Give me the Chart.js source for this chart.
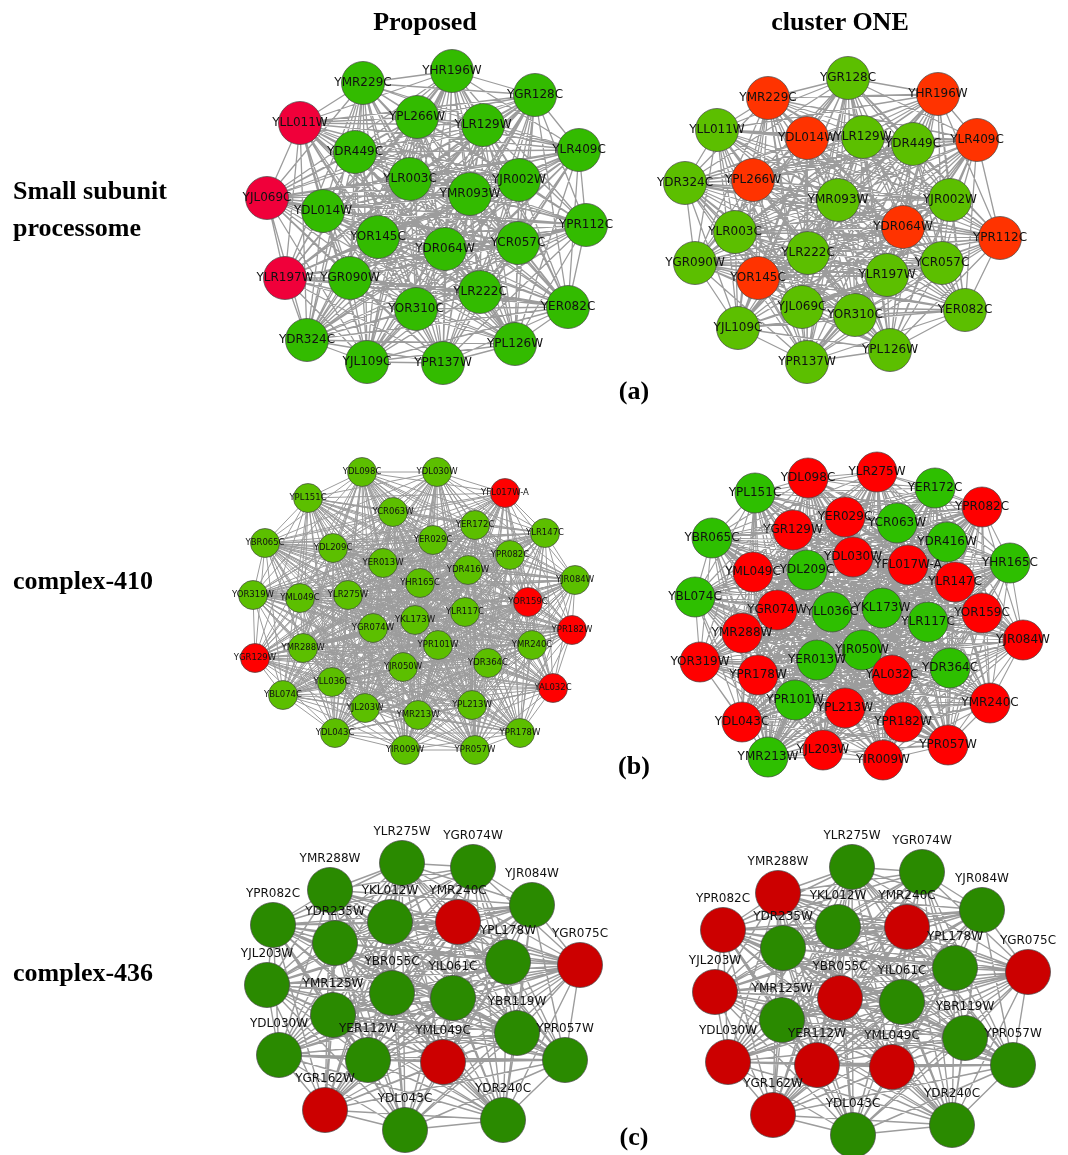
<!DOCTYPE html>
<html><head><meta charset="utf-8">
<script src="https://cdn.jsdelivr.net/npm/chart.js@4"></script>
<style>
html,body{margin:0;padding:0;background:#fff}
body{width:1068px;height:1155px;position:relative;overflow:hidden}
#wrap{position:absolute;left:0;top:0;width:1068px;height:1155px}
.t{position:absolute;font-family:"Liberation Serif","DejaVu Serif",serif;font-weight:bold;font-size:26px;line-height:26px;color:#000;white-space:nowrap}
.c{transform:translateX(-50%)}
</style></head><body>
<div id="wrap"><canvas id="c" width="1068" height="1155"></canvas></div>
<div class="t c" style="left:425px;top:9px">Proposed</div>
<div class="t c" style="left:840px;top:9px">cluster ONE</div>
<div class="t" style="left:13px;top:178px">Small subunit</div>
<div class="t" style="left:13px;top:215px">processome</div>
<div class="t" style="left:13px;top:568px">complex-410</div>
<div class="t" style="left:13px;top:960px">complex-436</div>
<div class="t c" style="left:634px;top:378px">(a)</div>
<div class="t c" style="left:634px;top:753px">(b)</div>
<div class="t c" style="left:634px;top:1124px">(c)</div>
<script>
// ---------- (a) Small subunit processome : Proposed ----------
const aLeftNames = ["YMR229C","YHR196W","YGR128C","YLL011W","YPL266W","YLR129W","YDR449C","YLR409C","YLR003C","YJR002W","YMR093W","YJL069C","YDL014W","YPR112C","YOR145C","YCR057C","YDR064W","YLR197W","YGR090W","YLR222C","YOR310C","YER082C","YDR324C","YJL109C","YPR137W","YPL126W"];
const aLeftX = [363,452,535,300,417,483,355,579,410,519,470,267,323,586,378,518,445,285,350,480,416,568,307,367,443,515];
const aLeftY = [83,71,95,123,117,125,152,150,179,180,194,198,211,225,237,243,249,278,278,292,309,307,340,362,363,344];
const aLeftRed = [0,0,0,1,0,0,0,0,0,0,0,1,0,0,0,0,0,1,0,0,0,0,0,0,0,0];

// ---------- (a) Small subunit processome : cluster ONE ----------
const aRightNames = ["YGR128C","YMR229C","YHR196W","YLL011W","YDL014W","YLR129W","YDR449C","YLR409C","YDR324C","YPL266W","YMR093W","YJR002W","YDR064W","YLR003C","YPR112C","YLR222C","YGR090W","YCR057C","YOR145C","YLR197W","YJL069C","YOR310C","YER082C","YJL109C","YPL126W","YPR137W"];
const aRightX = [848,768,938,717,807,863,913,977,685,753,838,950,903,735,1000,808,695,942,758,887,802,855,965,738,890,807];
const aRightY = [78,98,94,130,138,137,144,140,183,180,200,200,227,232,238,253,263,263,278,275,307,315,310,328,350,362];
const aRightRed = [0,1,1,0,1,0,0,1,0,1,0,0,1,0,1,0,0,0,1,0,0,0,0,0,0,0];

// ---------- (b) complex-410 : Proposed ----------
const bLeftNames = ["YDL098C","YDL030W","YPL151C","YFL017W-A","YCR063W","YER172C","YLR147C","YBR065C","YDL209C","YER029C","YPR082C","YER013W","YDR416W","YJR084W","YHR165C","YOR319W","YML049C","YLR275W","YOR159C","YLR117C","YKL173W","YGR074W","YPR182W","YPR101W","YMR288W","YMR240C","YGR129W","YJR050W","YDR364C","YLL036C","YAL032C","YBL074C","YPL213W","YJL203W","YMR213W","YDL043C","YPR178W","YIR009W","YPR057W"];
const bLeftX = [362,437,308,505,393,475,545,265,333,433,510,383,468,575,420,253,300,348,528,465,415,373,572,438,303,532,255,403,488,332,553,283,472,365,418,335,520,405,475];
const bLeftY = [472,472,498,493,512,525,533,543,548,540,555,563,570,580,583,595,598,595,602,612,620,628,630,645,648,645,658,667,663,682,688,695,705,708,715,733,733,750,750];
const bLeftRed = [0,0,0,1,0,0,0,0,0,0,0,0,0,0,0,0,0,0,1,0,0,0,1,0,0,0,1,0,0,0,1,0,0,0,0,0,0,0,0];

// ---------- (b) complex-410 : cluster ONE ----------
const bRightNames = ["YLR275W","YDL098C","YPL151C","YER172C","YPR082C","YER029C","YGR129W","YCR063W","YBR065C","YDR416W","YDL030W","YFL017W-A","YHR165C","YML049C","YDL209C","YLR147C","YBL074C","YGR074W","YLL036C","YKL173W","YLR117C","YOR159C","YMR288W","YJR084W","YJR050W","YOR319W","YER013W","YPR178W","YAL032C","YDR364C","YPR101W","YPL213W","YMR240C","YDL043C","YPR182W","YPR057W","YJL203W","YMR213W","YIR009W"];
const bRightX = [877,808,755,935,982,845,793,897,712,947,853,908,1010,753,807,955,695,777,832,882,928,982,742,1023,862,700,817,758,892,950,795,845,990,742,903,948,823,768,883];
const bRightY = [472,478,493,488,507,517,530,523,538,542,557,565,563,572,570,582,597,610,612,608,622,613,633,640,650,662,660,675,675,668,700,708,703,722,722,745,750,757,760];
const bRightRed = [1,1,0,0,1,1,1,0,0,0,1,1,0,1,0,1,0,1,0,0,0,1,1,1,0,1,0,1,1,0,0,1,1,1,1,1,1,0,1];

// ---------- (c) complex-436 : Proposed ----------
const cLeftNames = ["YLR275W","YGR074W","YMR288W","YJR084W","YPR082C","YKL012W","YMR240C","YDR235W","YPL178W","YGR075C","YJL203W","YBR055C","YIL061C","YMR125W","YBR119W","YDL030W","YER112W","YML049C","YPR057W","YGR162W","YDL043C","YDR240C"];
const cLeftX = [402,473,330,532,273,390,458,335,508,580,267,392,453,333,517,279,368,443,565,325,405,503];
const cLeftY = [863,867,890,905,925,922,922,943,962,965,985,993,998,1015,1033,1055,1060,1062,1060,1110,1130,1120];
const cLeftRed = [0,0,0,0,0,0,1,0,0,1,0,0,0,0,0,0,0,1,0,1,0,0];

// ---------- (c) complex-436 : cluster ONE ----------
const cRightNames = ["YLR275W","YGR074W","YMR288W","YJR084W","YPR082C","YKL012W","YMR240C","YDR235W","YPL178W","YGR075C","YJL203W","YBR055C","YIL061C","YMR125W","YBR119W","YDL030W","YER112W","YML049C","YPR057W","YGR162W","YDL043C","YDR240C"];
const cRightX = [852,922,778,982,723,838,907,783,955,1028,715,840,902,782,965,728,817,892,1013,773,853,952];
const cRightY = [867,872,893,910,930,927,927,948,968,972,992,998,1002,1020,1038,1062,1065,1067,1065,1115,1135,1125];
const cRightRed = [0,0,1,0,1,0,1,0,0,1,1,1,0,0,0,1,1,1,0,1,0,0];

// ---------- panel styling ----------
const panels = [
  {names:aLeftNames, xs:aLeftX, ys:aLeftY, red:aLeftRed, r:21.5, g:'#33bb00', rc:'#f0003a', font:'12px "DejaVu Sans"', dy:0, ew:1.3},
  {names:aRightNames, xs:aRightX, ys:aRightY, red:aRightRed, r:21.5, g:'#5cbf00', rc:'#ff3300', font:'12px "DejaVu Sans"', dy:0, ew:1.3},
  {names:bLeftNames, xs:bLeftX, ys:bLeftY, red:bLeftRed, r:14.5, g:'#5cbf00', rc:'#ff0000', font:'8.5px "DejaVu Sans"', dy:0, ew:1.0},
  {names:bRightNames, xs:bRightX, ys:bRightY, red:bRightRed, r:20, g:'#2ebf00', rc:'#ff0000', font:'12px "DejaVu Sans"', dy:0, ew:1.1},
  {names:cLeftNames, xs:cLeftX, ys:cLeftY, red:cLeftRed, r:22.5, g:'#2a8a00', rc:'#cc0000', font:'12px "DejaVu Sans"', dy:-31, ew:1.4},
  {names:cRightNames, xs:cRightX, ys:cRightY, red:cRightRed, r:22.5, g:'#2a8a00', rc:'#cc0000', font:'12px "DejaVu Sans"', dy:-31, ew:1.4}
];

function edgePoints(xs, ys){
  const pts = [];
  for (let i = 0; i < xs.length; i++)
    for (let j = i + 1; j < xs.length; j++){
      pts.push({x:xs[i], y:ys[i]}, {x:xs[j], y:ys[j]}, {x:NaN, y:null});
    }
  return pts;
}

const datasets = [];
panels.forEach(p => {
  datasets.push({
    data: edgePoints(p.xs, p.ys), showLine:true, spanGaps:false,
    borderColor:'#9c9c9c', borderWidth:p.ew, pointRadius:0, pointHoverRadius:0, order:2, clip:false
  });
  datasets.push({
    data: p.xs.map((x,i)=>({x:x, y:p.ys[i]})), showLine:false,
    backgroundColor: p.red.map(v => v ? p.rc : p.g),
    borderColor:'rgba(70,70,70,0.7)', borderWidth:1,
    pointRadius:p.r, pointHoverRadius:p.r, order:1, clip:false
  });
});

const labelPlugin = {
  id:'nodeLabels',
  afterDatasetsDraw(chart){
    const ctx = chart.ctx, sx = chart.scales.x, sy = chart.scales.y;
    panels.forEach(p => {
      ctx.save();
      ctx.font = p.font; ctx.fillStyle = '#111';
      ctx.textAlign = 'center'; ctx.textBaseline = 'middle';
      p.names.forEach((n,i) => {
        ctx.fillText(n, sx.getPixelForValue(p.xs[i]), sy.getPixelForValue(p.ys[i]) + p.dy);
      });
      ctx.restore();
    });
  }
};

new Chart(document.getElementById('c'), {
  type:'scatter',
  data:{datasets:datasets},
  options:{
    responsive:false, animation:false, events:[], devicePixelRatio:1,
    layout:{padding:0, autoPadding:false},
    plugins:{legend:{display:false}, tooltip:{enabled:false}},
    scales:{
      x:{type:'linear', min:0, max:1068, display:false},
      y:{type:'linear', min:0, max:1155, reverse:true, display:false}
    }
  },
  plugins:[labelPlugin]
});
</script>
</body></html>
